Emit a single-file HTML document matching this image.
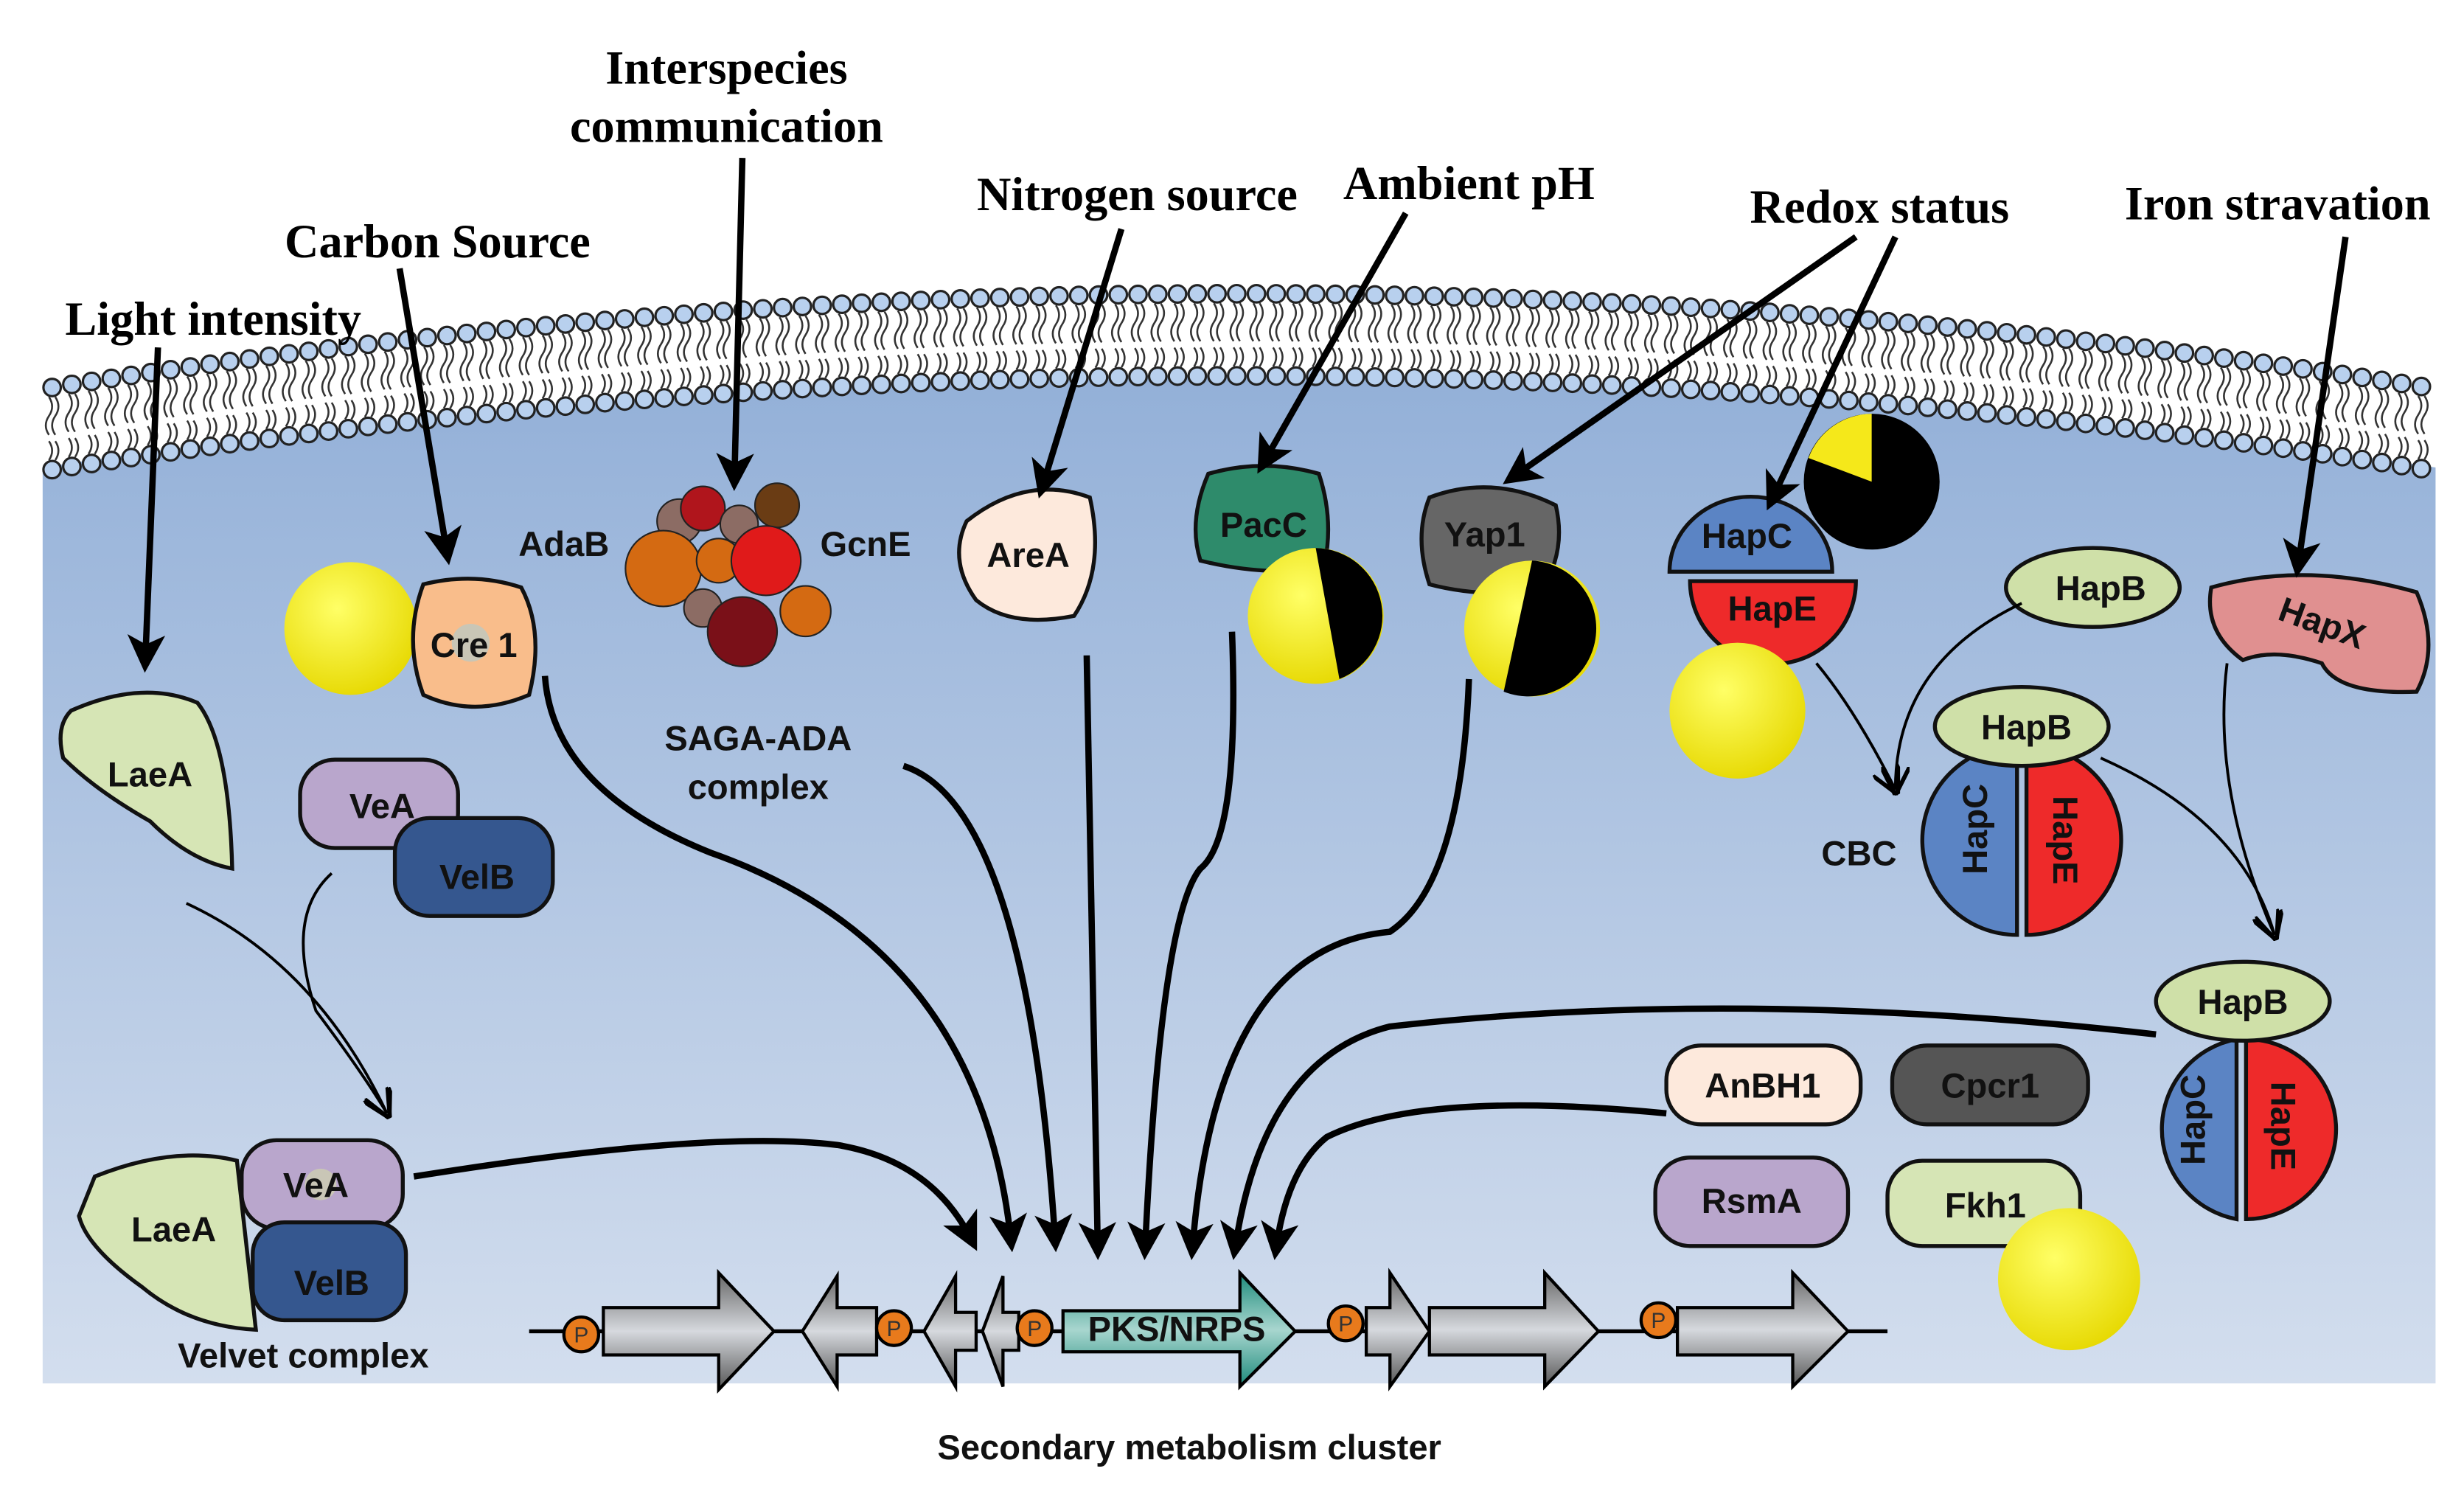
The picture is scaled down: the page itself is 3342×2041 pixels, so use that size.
<!DOCTYPE html>
<html><head><meta charset="utf-8"><style>
html,body{margin:0;padding:0;background:#fff;}
svg{display:block;}
.s{font-family:"Liberation Serif",serif;font-weight:bold;font-size:30px;fill:#000;}
.t{font-family:"Liberation Sans",sans-serif;font-weight:bold;font-size:22px;fill:#111;}
.b{stroke:#111;stroke-width:2.5;}
.ar{fill:none;stroke:#000;stroke-width:4;marker-end:url(#ah);}
.th{fill:none;stroke:#000;stroke-width:1.8;marker-end:url(#ah2);}
</style></head><body>
<svg id="sv" width="3342" height="2041" viewBox="0 0 1560 953" preserveAspectRatio="none" xmlns="http://www.w3.org/2000/svg">
<defs>
<linearGradient id="cell" x1="0" y1="0" x2="0" y2="1"><stop offset="0" stop-color="#93b0d8"/><stop offset="1" stop-color="#d3deee"/></linearGradient>
<linearGradient id="gr" x1="0" y1="0" x2="0" y2="1"><stop offset="0" stop-color="#666"/><stop offset="0.5" stop-color="#d6d9de"/><stop offset="1" stop-color="#555"/></linearGradient>
<linearGradient id="tl" x1="0" y1="0" x2="0" y2="1"><stop offset="0" stop-color="#1c8a7a"/><stop offset="0.5" stop-color="#a8d6cf"/><stop offset="1" stop-color="#1c8a7a"/></linearGradient>
<radialGradient id="yl" cx="0.4" cy="0.35" r="0.7"><stop offset="0" stop-color="#ffff66"/><stop offset="1" stop-color="#e6d800"/></radialGradient>
<marker id="ah" markerWidth="6" markerHeight="6" refX="4" refY="3" orient="auto" markerUnits="strokeWidth"><path d="M0,0 L6,3 L0,6 L1.5,3z" fill="#000"/></marker>
<marker id="ah2" markerWidth="10" markerHeight="10" refX="8" refY="5" orient="auto" markerUnits="strokeWidth"><path d="M0,0 L10,5 L0,10" fill="none" stroke="#000" stroke-width="1.5"/></marker>
</defs>
<path d="M27,296 Q785,180 1542,296 L1542,876 L27,876 Z" fill="url(#cell)"/>
<g id="mem"></g>

<text class="s" x="460" y="53" text-anchor="middle">Interspecies</text>
<text class="s" x="460" y="90" text-anchor="middle">communication</text>
<text class="s" x="277" y="163" text-anchor="middle">Carbon Source</text>
<text class="s" x="135" y="212" text-anchor="middle">Light intensity</text>
<text class="s" x="720" y="133" text-anchor="middle">Nitrogen source</text>
<text class="s" x="930" y="126" text-anchor="middle">Ambient pH</text>
<text class="s" x="1190" y="141" text-anchor="middle">Redox status</text>
<text class="s" x="1442" y="139" text-anchor="middle">Iron stravation</text>

<!-- gene cluster -->
<line x1="335" y1="843" x2="1195" y2="843" stroke="#000" stroke-width="2.5"/>
<g stroke="#000" stroke-width="2">
<path d="M382,828 H455 V806 L490,843 L455,880 V858 H382Z" fill="url(#gr)"/>
<path d="M555,828 H530 V808 L508,843 L530,878 V858 H555Z" fill="url(#gr)"/>
<path d="M618,831 H605 V808 L585,843 L605,878 V855 H618Z" fill="url(#gr)"/>
<path d="M645,831 H635 V808 L622,843 L635,878 V855 H645Z" fill="url(#gr)"/>
<path d="M673,830 H785 V806 L820,843 L785,878 V856 H673Z" fill="url(#tl)"/>
<path d="M865,828 H880 V806 L905,843 L880,878 V858 H865Z" fill="url(#gr)"/>
<path d="M905,828 H978 V806 L1012,843 L978,878 V858 H905Z" fill="url(#gr)"/>
<path d="M1062,828 H1135 V806 L1170,843 L1135,878 V858 H1062Z" fill="url(#gr)"/>
<circle cx="368" cy="845" r="11" fill="#e87a1c"/><circle cx="566" cy="841" r="11" fill="#e87a1c"/><circle cx="655" cy="841" r="11" fill="#e87a1c"/><circle cx="852" cy="838" r="11" fill="#e87a1c"/><circle cx="1050" cy="836" r="11" fill="#e87a1c"/>
</g>
<g font-family="Liberation Sans,sans-serif" font-size="14" fill="#333" text-anchor="middle"><text x="368" y="850">P</text><text x="566" y="846">P</text><text x="655" y="846">P</text><text x="852" y="843">P</text><text x="1050" y="841">P</text></g>
<text class="t" x="745" y="849" text-anchor="middle" font-size="16">PKS/NRPS</text>
<text class="t" x="753" y="924" text-anchor="middle">Secondary metabolism cluster</text>

<!-- proteins -->
<path class="b" d="M45,450 Q90,430 125,445 Q145,470 147,550 Q120,545 95,520 Q60,500 40,480 Q35,460 45,450Z" fill="#d6e5b5"/>
<text class="t" x="95" y="498" text-anchor="middle">LaeA</text>
<rect class="b" x="190" y="481" width="100" height="56" rx="22" fill="#b9a6cc"/><text class="t" x="242" y="518" text-anchor="middle">VeA</text>
<rect class="b" x="250" y="518" width="100" height="62" rx="22" fill="#35578f"/><text class="t" x="302" y="563" text-anchor="middle">VelB</text>

<path class="b" d="M60,745 Q110,725 150,735 L162,842 Q120,840 90,815 Q55,790 50,770Z" fill="#d6e5b5"/>
<text class="t" x="110" y="786" text-anchor="middle">LaeA</text>
<rect class="b" x="153" y="722" width="102" height="56" rx="22" fill="#b9a6cc"/>
<circle cx="203" cy="750" r="10" fill="#c9c6b6"/>
<text class="t" x="200" y="758" text-anchor="middle">VeA</text>
<rect class="b" x="160" y="774" width="97" height="62" rx="20" fill="#35578f"/><text class="t" x="210" y="820" text-anchor="middle">VelB</text>
<text class="t" x="192" y="866" text-anchor="middle">Velvet complex</text>

<circle cx="222" cy="398" r="42" fill="url(#yl)"/>
<path class="b" d="M268,370 Q300,362 330,372 Q345,400 335,440 Q300,455 268,440 Q255,405 268,370Z" fill="#f9bd8b"/>
<circle cx="298" cy="407" r="12" fill="#c9c6b6"/>
<text class="t" x="300" y="416" text-anchor="middle">Cre 1</text>

<g stroke="#222" stroke-width="1">
<circle cx="430" cy="330" r="14" fill="#8c6c64"/><circle cx="492" cy="320" r="14" fill="#6a3c14"/><circle cx="445" cy="322" r="14" fill="#b0151c"/>
<circle cx="420" cy="360" r="24" fill="#d46a12"/><circle cx="468" cy="332" r="12" fill="#8c6c64"/><circle cx="455" cy="355" r="14" fill="#d46a12"/>
<circle cx="485" cy="355" r="22" fill="#e01a1a"/><circle cx="510" cy="387" r="16" fill="#d46a12"/><circle cx="445" cy="385" r="12" fill="#8c6c64"/>
<circle cx="470" cy="400" r="22" fill="#7a1018"/>
</g>
<text class="t" x="357" y="352" text-anchor="middle">AdaB</text><text class="t" x="548" y="352" text-anchor="middle">GcnE</text>
<text class="t" x="480" y="475" text-anchor="middle">SAGA-ADA</text><text class="t" x="480" y="506" text-anchor="middle">complex</text>

<path class="b" d="M612,330 Q650,300 690,315 Q700,360 680,390 Q640,398 618,380 Q600,355 612,330Z" fill="#fde9dc"/>
<text class="t" x="651" y="359" text-anchor="middle">AreA</text>
<path class="b" d="M765,300 Q800,290 835,300 Q845,330 838,360 Q800,365 760,355 Q752,330 765,300Z" fill="#2e8b6b"/>
<text class="t" x="800" y="340" text-anchor="middle">PacC</text>
<circle cx="833" cy="390" r="43" fill="url(#yl)"/><path d="M833,347 A43,43 0 0 1 848,430 Z" fill="#000"/>
<path class="b" d="M905,315 Q945,300 985,320 Q992,350 975,375 Q935,378 905,370 Q895,340 905,315Z" fill="#666"/>
<text class="t" x="940" y="346" text-anchor="middle">Yap1</text>
<circle cx="970" cy="398" r="43" fill="url(#yl)"/><path d="M970,355 A43,43 0 1 1 952,438 Z" fill="#000"/>

<circle cx="1185" cy="305" r="43" fill="#000"/><path d="M1185,305 L1185,262 A43,43 0 0 0 1145,290 Z" fill="#f5e81a"/>
<path class="b" d="M1057,362 A51,47 0 0 1 1160,362 Z" fill="#5b84c4"/><text class="t" x="1106" y="347" text-anchor="middle">HapC</text>
<path class="b" d="M1070,368 H1175 A52,52 0 0 1 1070,368 Z" fill="#ee2a2a"/><text class="t" x="1122" y="393" text-anchor="middle">HapE</text>
<circle cx="1100" cy="450" r="43" fill="url(#yl)"/>

<ellipse class="b" cx="1325" cy="372" rx="55" ry="25" fill="#cfe0a8"/><text class="t" x="1330" y="380" text-anchor="middle">HapB</text>
<path class="b" d="M1400,372 Q1460,355 1530,375 Q1545,410 1530,438 Q1480,440 1470,420 Q1440,410 1420,418 Q1395,400 1400,372Z" fill="#e09090"/>
<text class="t" x="1470" y="402" text-anchor="middle" transform="rotate(20 1470 395)">HapX</text>
<text class="t" x="1177" y="548" text-anchor="middle">CBC</text>

<path class="b" d="M1277,472 A60,60 0 0 0 1277,592 Z" fill="#5b84c4"/>
<path class="b" d="M1283,472 A60,60 0 0 1 1283,592 Z" fill="#ee2a2a"/>
<text class="t" x="1265" y="532" text-anchor="middle" transform="rotate(-90 1258 532)">HapC</text>
<text class="t" x="1300" y="532" text-anchor="middle" transform="rotate(90 1300 532)">HapE</text>
<ellipse class="b" cx="1280" cy="460" rx="55" ry="25" fill="#cfe0a8"/><text class="t" x="1283" y="468" text-anchor="middle">HapB</text>

<path class="b" d="M1416,658 A58,58 0 0 0 1416,772 Z" fill="#5b84c4"/>
<path class="b" d="M1422,658 A56,56 0 0 1 1422,772 Z" fill="#ee2a2a"/>
<text class="t" x="1402" y="715" text-anchor="middle" transform="rotate(-90 1396 715)">HapC</text>
<text class="t" x="1436" y="715" text-anchor="middle" transform="rotate(90 1438 715)">HapE</text>
<ellipse class="b" cx="1420" cy="634" rx="55" ry="25" fill="#cfe0a8"/><text class="t" x="1420" y="642" text-anchor="middle">HapB</text>

<rect class="b" x="1055" y="662" width="123" height="50" rx="22" fill="#fde9dc"/><text class="t" x="1116" y="695" text-anchor="middle">AnBH1</text>
<rect class="b" x="1198" y="662" width="124" height="50" rx="22" fill="#555"/><text class="t" x="1260" y="695" text-anchor="middle">Cpcr1</text>
<rect class="b" x="1048" y="733" width="122" height="56" rx="22" fill="#b9a6cc"/><text class="t" x="1109" y="768" text-anchor="middle">RsmA</text>
<rect class="b" x="1195" y="735" width="122" height="54" rx="22" fill="#d6e5b5"/><text class="t" x="1257" y="771" text-anchor="middle">Fkh1</text>
<circle cx="1310" cy="810" r="45" fill="url(#yl)"/>

<!-- arrows -->
<path class="ar" d="M100,220 L92,418"/>
<path class="ar" d="M253,170 L283,350"/>
<path class="ar" d="M470,100 L465,303"/>
<path class="ar" d="M710,145 L660,308"/>
<path class="ar" d="M890,135 L800,293"/>
<path class="ar" d="M1175,150 L958,302"/>
<path class="ar" d="M1200,150 L1122,316"/>
<path class="ar" d="M1485,150 L1455,358"/>

<path class="ar" d="M262,745 Q450,715 530,725 Q590,735 615,785"/>
<path class="ar" d="M345,428 Q350,500 450,540 Q620,600 640,785"/>
<path class="ar" d="M572,485 Q650,510 668,785"/>
<path class="ar" d="M688,415 L695,790"/>
<path class="ar" d="M780,400 Q785,530 760,550 Q735,580 725,790"/>
<path class="ar" d="M930,430 Q925,560 880,590 Q770,600 755,790"/>
<path class="ar" d="M1365,655 Q1100,625 880,650 Q800,670 782,790"/>
<path class="ar" d="M1055,705 Q900,690 840,720 Q815,740 808,790"/>

<path class="th" d="M118,572 Q200,610 245,705"/>
<path class="th" d="M210,553 Q180,580 200,640 Q230,680 245,705"/>
<path class="th" d="M1150,420 Q1175,450 1200,500"/>
<path class="th" d="M1280,382 Q1200,420 1200,500"/>
<path class="th" d="M1330,480 Q1420,520 1440,592"/>
<path class="th" d="M1410,420 Q1400,500 1440,592"/>
</svg>
<script>
(function(){
var g=document.getElementById('mem'),h='';
function y(x){return 186+(x-785)*(x-785)*1.05e-4;}
for(var x=33;x<=1540;x+=12.5){
 var a=y(x),b=a+52;
 h+='<path d="M'+(x-2)+','+(a+6)+' q4,6 0,12 q-4,6 0,12" fill="none" stroke="#333" stroke-width="1.2"/>';
 h+='<path d="M'+(x+2)+','+(a+6)+' q4,6 0,12 q-4,6 0,12" fill="none" stroke="#333" stroke-width="1.2"/>';
 h+='<path d="M'+(x-2)+','+(b-6)+' q4,-6 0,-12" fill="none" stroke="#333" stroke-width="1.2"/>';
 h+='<path d="M'+(x+2)+','+(b-6)+' q4,-6 0,-12" fill="none" stroke="#333" stroke-width="1.2"/>';
 h+='<circle cx="'+x+'" cy="'+a+'" r="5.5" fill="#b8d0ee" stroke="#222" stroke-width="1.5"/>';
 h+='<circle cx="'+x+'" cy="'+b+'" r="5.5" fill="#b8d0ee" stroke="#222" stroke-width="1.5"/>';
}
g.innerHTML=h;
})();
</script>
</body></html>
